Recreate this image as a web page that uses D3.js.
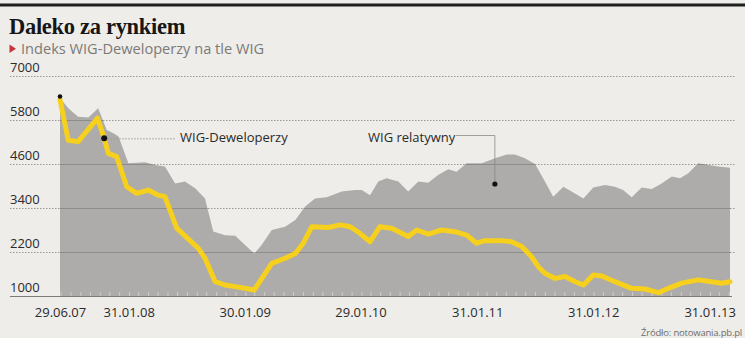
<!DOCTYPE html>
<html>
<head>
<meta charset="utf-8">
<script src="https://cdn.jsdelivr.net/npm/d3@7"></script>
<style>
  html, body { margin: 0; padding: 0; background: #fff; }
  svg { display: block; }
  text { font-family: "Open Sans", "Noto Sans", sans-serif; }
</style>
</head>
<body>
<svg id="chart" width="756" height="344"></svg>
<script>
// Y axis ticks (points)
const yTicks = [1000, 2200, 3400, 4600, 5800, 7000];

// Labelled dates on the time axis
const xTickDates = ["2007-06-29", "2008-01-31", "2009-01-30", "2010-01-29",
                    "2011-01-31", "2012-01-31", "2013-01-31"];

// WIG relatywny (grey area)
const wigDates = [
  "2007-06-29","2007-07-25","2007-08-25","2007-09-26","2007-10-27","2007-11-23","2007-12-14","2007-12-30",
  "2008-01-30","2008-03-22","2008-04-23","2008-05-24","2008-06-25","2008-07-26","2008-08-27","2008-09-27",
  "2008-10-23","2008-11-29","2008-12-31","2009-01-31","2009-03-01","2009-03-24","2009-04-25","2009-06-06",
  "2009-07-08","2009-08-08","2009-09-08","2009-10-15","2009-12-01","2010-01-12","2010-02-02","2010-02-28",
  "2010-03-26","2010-04-21","2010-05-28","2010-06-28","2010-07-30","2010-08-30","2010-09-30","2010-11-01",
  "2010-11-27","2010-12-29","2011-02-14","2011-03-28","2011-05-04","2011-05-30","2011-06-30","2011-08-01",
  "2011-09-01","2011-09-27","2011-10-29","2011-11-29","2011-12-31","2012-01-31","2012-03-08","2012-04-08",
  "2012-05-04","2012-05-31","2012-07-01","2012-08-02","2012-09-02","2012-10-04","2012-10-30","2012-11-25",
  "2012-12-26","2013-01-27","2013-02-27","2013-04-05"
];
const wigValues = [
  6400, 6120, 5890, 5870, 6120, 5530, 5440, 5350,
  4620, 4650, 4570, 4530, 4070, 4120, 3940, 3660,
  2760, 2660, 2640, 2390, 2160, 2390, 2800, 2890,
  3070, 3440, 3660, 3690, 3850, 3890, 3890, 3750,
  4120, 4210, 4120, 3850, 4120, 4090, 4300, 4460,
  4390, 4620, 4620, 4760, 4860, 4860, 4760, 4600,
  4120, 3710, 3980, 3820, 3660, 3960, 4030, 3980,
  3890, 3690, 3960, 3920, 4070, 4260, 4210, 4350,
  4620, 4570, 4530, 4500
];

// WIG-Deweloperzy (yellow line)
const devDates = [
  "2007-06-29","2007-07-25","2007-08-25","2007-10-25","2007-11-15","2007-11-28","2007-12-24","2008-01-25",
  "2008-02-25","2008-04-02","2008-05-03","2008-05-24","2008-06-30","2008-09-06","2008-09-27","2008-10-29",
  "2008-11-29","2008-12-31","2009-01-31","2009-03-01","2009-04-25","2009-06-06","2009-07-08","2009-08-02",
  "2009-08-29","2009-10-20","2009-11-26","2009-12-28","2010-01-27","2010-02-28","2010-03-31","2010-05-07",
  "2010-06-28","2010-07-25","2010-08-30","2010-10-11","2010-11-22","2010-12-29","2011-01-29","2011-02-24",
  "2011-04-18","2011-05-19","2011-06-20","2011-07-21","2011-08-11","2011-09-01","2011-10-03","2011-11-03",
  "2011-12-05","2011-12-31","2012-01-31","2012-02-27","2012-04-08","2012-05-31","2012-07-12","2012-08-23",
  "2012-09-23","2012-11-04","2012-12-26","2013-02-06","2013-03-10","2013-04-05"
];
const devValues = [
  6350, 5250, 5210, 5850, 5300, 4890, 4800, 3980,
  3800, 3890, 3750, 3710, 2850, 2300, 2030, 1390,
  1300, 1255, 1210, 1165, 1890, 2030, 2160, 2440,
  2890, 2870, 2940, 2890, 2710, 2480, 2890, 2850,
  2620, 2800, 2690, 2800, 2755, 2660, 2440, 2510,
  2510, 2480, 2350, 2070, 1800, 1620, 1480, 1530,
  1390, 1300, 1570, 1545, 1390, 1210, 1190, 1090,
  1210, 1350, 1440, 1390, 1350, 1390
];

const parse = d3.timeParse("%Y-%m-%d");
const wig = wigDates.map((d, i) => ({ date: parse(d), value: wigValues[i] }));
const dev = devDates.map((d, i) => ({ date: parse(d), value: devValues[i] }));

const svg = d3.select("#chart");

// panel background and top rule
svg.append("rect").attr("width", 745).attr("height", 338).attr("fill", "#efede9");
svg.append("rect").attr("x", 0).attr("y", 3.5).attr("width", 745).attr("height", 3).attr("fill", "#1e1e1e");

// title and subtitle
svg.append("text")
  .attr("x", 9).attr("y", 34)
  .style("font-family", "'Liberation Serif', 'DejaVu Serif', serif")
  .style("font-weight", "bold")
  .style("font-size", "22.5px")
  .style("letter-spacing", "-0.3px")
  .attr("fill", "#161616")
  .text("Daleko za rynkiem");

svg.append("path")
  .attr("d", "M9.5,44.5 L16,48.8 L9.5,53 Z")
  .attr("fill", "#c9343c");
svg.append("text")
  .attr("x", 21).attr("y", 53.5)
  .style("font-size", "14.6px")
  .attr("fill", "#7b7a78")
  .text("Indeks WIG-Deweloperzy na tle WIG");

// scales
const x = d3.scaleTime()
  .domain([parse("2007-06-29"), parse("2013-04-05")])
  .range([60, 730]);
const y = d3.scaleLinear().domain([1000, 7000]).range([296, 76]);

// grey area: WIG relatywny
const area = d3.area()
  .x(d => x(d.date))
  .y0(y(1000))
  .y1(d => y(d.value));

svg.append("path")
  .datum(wig)
  .attr("d", area)
  .attr("fill", "#adacaa");

svg.append("clipPath").attr("id", "areaClip")
  .append("path").datum(wig).attr("d", area);

// horizontal grid: dotted over the panel, solid where it crosses the area
const gridVals = yTicks.filter(v => v !== 1000);
svg.append("g").selectAll("line").data(gridVals).join("line")
  .attr("x1", 10).attr("x2", 736)
  .attr("y1", d => y(d) + 0.5).attr("y2", d => y(d) + 0.5)
  .attr("stroke", "#9a9894").attr("stroke-width", 1)
  .attr("stroke-dasharray", "1.5,1.5");
svg.append("g").attr("clip-path", "url(#areaClip)")
  .selectAll("line").data(gridVals).join("line")
  .attr("x1", 10).attr("x2", 736)
  .attr("y1", d => y(d) + 0.5).attr("y2", d => y(d) + 0.5)
  .attr("stroke", "#8d8c8a").attr("stroke-width", 1);

// monthly minor ticks along the base
const minor = svg.append("g")
  .attr("transform", `translate(0,${y(1000)})`)
  .call(d3.axisBottom(x).ticks(d3.timeMonth.every(1)).tickSize(-4).tickFormat(""));
minor.select(".domain").remove();
minor.selectAll(".tick line").attr("stroke", "#cfcdca").attr("stroke-width", 1);

// base line
svg.append("line")
  .attr("x1", 10).attr("x2", 732)
  .attr("y1", y(1000) + 0.5).attr("y2", y(1000) + 0.5)
  .attr("stroke", "#7c7b79").attr("stroke-width", 1);

// y labels, sitting above their grid lines
const yAxis = svg.append("g")
  .attr("transform", "translate(10,0)")
  .call(d3.axisRight(y).tickValues(yTicks).tickSize(0).tickPadding(0).tickFormat(d3.format("d")));
yAxis.select(".domain").remove();
yAxis.selectAll("text")
  .attr("dy", "-0.32em")
  .style("font-family", "'Open Sans', sans-serif")
  .style("font-size", "13px")
  .attr("fill", "#2a2a2a");

// x labels
const xAxis = svg.append("g")
  .attr("transform", `translate(0,${y(1000)})`)
  .call(d3.axisBottom(x).tickValues(xTickDates.map(parse)).tickSize(0).tickPadding(12)
    .tickFormat(d3.timeFormat("%d.%m.%y")));
xAxis.select(".domain").remove();
xAxis.selectAll("text")
  .style("font-family", "'Open Sans', sans-serif")
  .style("font-size", "13px")
  .attr("fill", "#2a2a2a");

// yellow line: WIG-Deweloperzy
const line = d3.line().x(d => x(d.date)).y(d => y(d.value));
svg.append("path")
  .datum(dev)
  .attr("d", line)
  .attr("fill", "none")
  .attr("stroke", "#f6d01c")
  .attr("stroke-width", 5)
  .attr("stroke-linejoin", "round")
  .attr("stroke-linecap", "round");

// start point
svg.append("circle")
  .attr("cx", x(wig[0].date)).attr("cy", y(wig[0].value) - 1.5).attr("r", 2.3)
  .attr("fill", "#111");

// label: WIG-Deweloperzy
const devPoint = dev[4];
const dpx = x(devPoint.date), dpy = y(devPoint.value);
svg.append("line")
  .attr("x1", dpx).attr("x2", 176)
  .attr("y1", dpy + 0.5).attr("y2", dpy + 0.5)
  .attr("stroke", "#9a9894").attr("stroke-dasharray", "1.5,1.5");
svg.append("circle").attr("cx", dpx).attr("cy", dpy).attr("r", 3).attr("fill", "#111");
svg.append("text")
  .attr("x", 180).attr("y", 142)
  .style("font-size", "13px")
  .attr("fill", "#2a2a2a")
  .text("WIG-Deweloperzy");

// label: WIG relatywny
const relX = x(parse("2011-03-26"));
const relDotY = 184;
svg.append("path")
  .attr("d", `M456,135.5 H${relX + 0.5} V${relDotY}`)
  .attr("fill", "none")
  .attr("stroke", "#8a8986").attr("stroke-width", 0.8);
svg.append("circle").attr("cx", relX + 0.5).attr("cy", relDotY).attr("r", 2.6).attr("fill", "#111");
svg.append("text")
  .attr("x", 368).attr("y", 142)
  .style("font-size", "13px")
  .attr("fill", "#2a2a2a")
  .text("WIG relatywny");

// source
svg.append("text")
  .attr("x", 742).attr("y", 336)
  .attr("text-anchor", "end")
  .style("font-size", "9.5px")
  .style("letter-spacing", "-0.2px")
  .attr("fill", "#6e6d6b")
  .text("Źródło: notowania.pb.pl");
</script>
</body>
</html>
